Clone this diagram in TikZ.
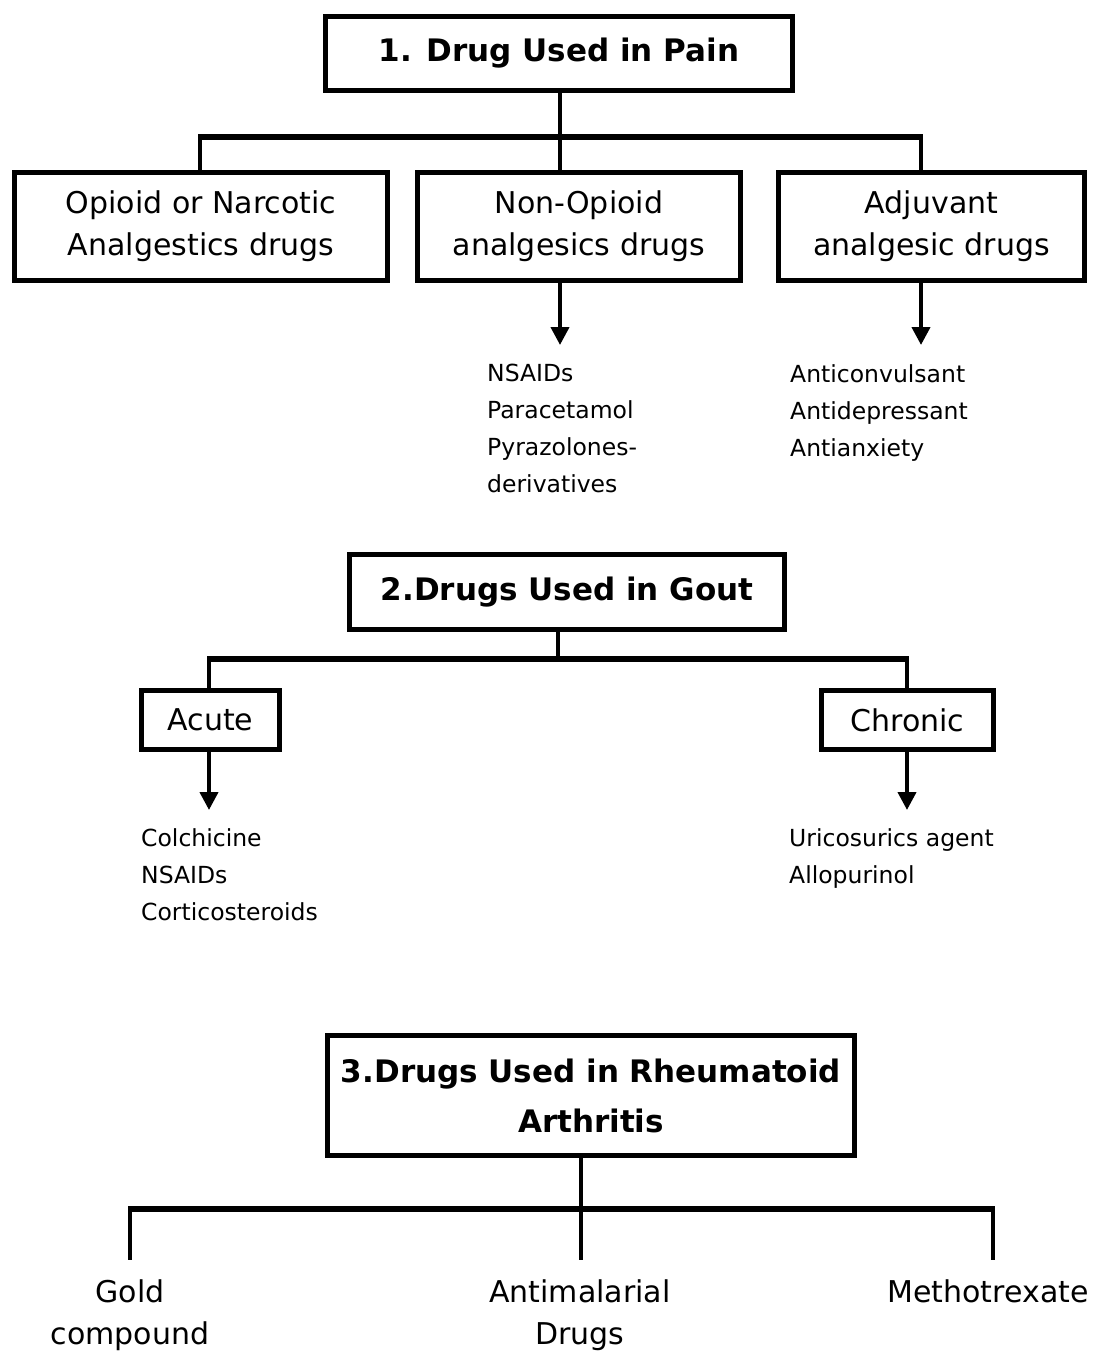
\documentclass[tikz,border=0pt]{standalone}
\usepackage{fontspec}
\setmainfont{DejaVu Sans}
\usepackage{tikz}
\usetikzlibrary{positioning, arrows.meta, calc}

\begin{document}
\begin{tikzpicture}[x=1pt, y=-1pt,
    kasten/.style={draw, line width=4.5pt, align=center, inner sep=0pt},
    titel/.style={kasten, font=\fontsize{31}{50}\selectfont\bfseries},
    normal/.style={font=\fontsize{30}{42}\selectfont},
    stamm/.style={line width=3.5pt},
    balken/.style={line width=6pt, shorten <=-1.75pt, shorten >=-1.75pt},
    pfeil/.style={line width=4pt, -{Triangle[length=18pt, width=18pt]}},
    liste/.style={align=left, anchor=north west, inner sep=0pt, font=\fontsize{23.5}{37}\selectfont},
    unten/.style={normal, align=center, anchor=north, inner sep=0pt}]
  \useasboundingbox (0,0) rectangle (1100,1357);
  % 1. Schmerz
  \node[titel, minimum width=467, minimum height=74] (pain) at (559,53.5) {1. Drug Used in Pain};
  \node[kasten, normal, minimum width=373, minimum height=108] (opioid) at (201,226.5) {Opioid or Narcotic\\Analgestics drugs};
  \node[kasten, normal, minimum width=323, minimum height=108] (nonop) at (579,226.5) {Non-Opioid\\analgesics drugs};
  \node[kasten, normal, minimum width=306, minimum height=108] (adjuv) at (931.5,226.5) {Adjuvant\\analgesic drugs};
  \coordinate (p1) at (200,137);
  \coordinate (p2) at (560,137);
  \coordinate (p3) at (921,137);
  \draw[stamm] (p2 |- pain.south) -- (p2);
  \draw[balken] (p1) -- (p3);
  \foreach \k/\z in {p1/opioid, p2/nonop, p3/adjuv}
    \draw[stamm] (\k) -- (\k |- \z.north);
  \node[liste] (nsaid) at (487,364) {NSAIDs\\Paracetamol\\Pyrazolones-\\derivatives};
  \node[liste] (anticon) at (790,364) {Anticonvulsant\\Antidepressant\\Antianxiety};
  \coordinate (e2) at (560,345);
  \coordinate (e3) at (921,345);
  \draw[pfeil] (p2 |- nonop.south) -- (e2);
  \draw[pfeil] (p3 |- adjuv.south) -- (e3);

  % 2. Gicht
  \node[titel, minimum width=435, minimum height=75] (gout) at (567,592) {2.Drugs Used in Gout};
  \node[kasten, normal, minimum width=138, minimum height=59] (acute) at (210.5,720) {Acute};
  \node[kasten, normal, minimum width=172, minimum height=59] (chronic) at (907.5,720) {Chronic};
  \coordinate (g1) at (209,659);
  \coordinate (g2) at (558,659);
  \coordinate (g3) at (907,659);
  \draw[stamm] (g2 |- gout.south) -- (g2);
  \draw[balken] (g1) -- (g3);
  \draw[stamm] (g1) -- (g1 |- acute.north);
  \draw[stamm] (g3) -- (g3 |- chronic.north);
  \node[liste] (colch) at (141,828) {Colchicine\\NSAIDs\\Corticosteroids};
  \node[liste] (urico) at (789,828) {Uricosurics agent\\Allopurinol};
  \coordinate (h1) at (209,810);
  \coordinate (h3) at (907,810);
  \draw[pfeil] (g1 |- acute.south) -- (h1);
  \draw[pfeil] (g3 |- chronic.south) -- (h3);

  % 3. Rheuma
  \node[titel, minimum width=527, minimum height=120] (rheuma) at (591,1095.5) {3.Drugs Used in Rheumatoid\\Arthritis};
  \coordinate (r1) at (130,1209);
  \coordinate (r2) at (581,1209);
  \coordinate (r3) at (993,1209);
  \draw[stamm] (r2 |- rheuma.south) -- (r2);
  \draw[balken] (r1) -- (r3);
  \node[unten] (gold) at (130,1279) {Gold\\compound};
  \node[unten] (antimal) at (580,1279) {Antimalarial\\Drugs};
  \node[unten] (metho) at (988,1279) {Methotrexate};
  \foreach \k/\z in {r1/gold, r2/antimal, r3/metho}
    \draw[stamm, shorten >=19pt] (\k) -- (\k |- \z.north);
\end{tikzpicture}
\end{document}
